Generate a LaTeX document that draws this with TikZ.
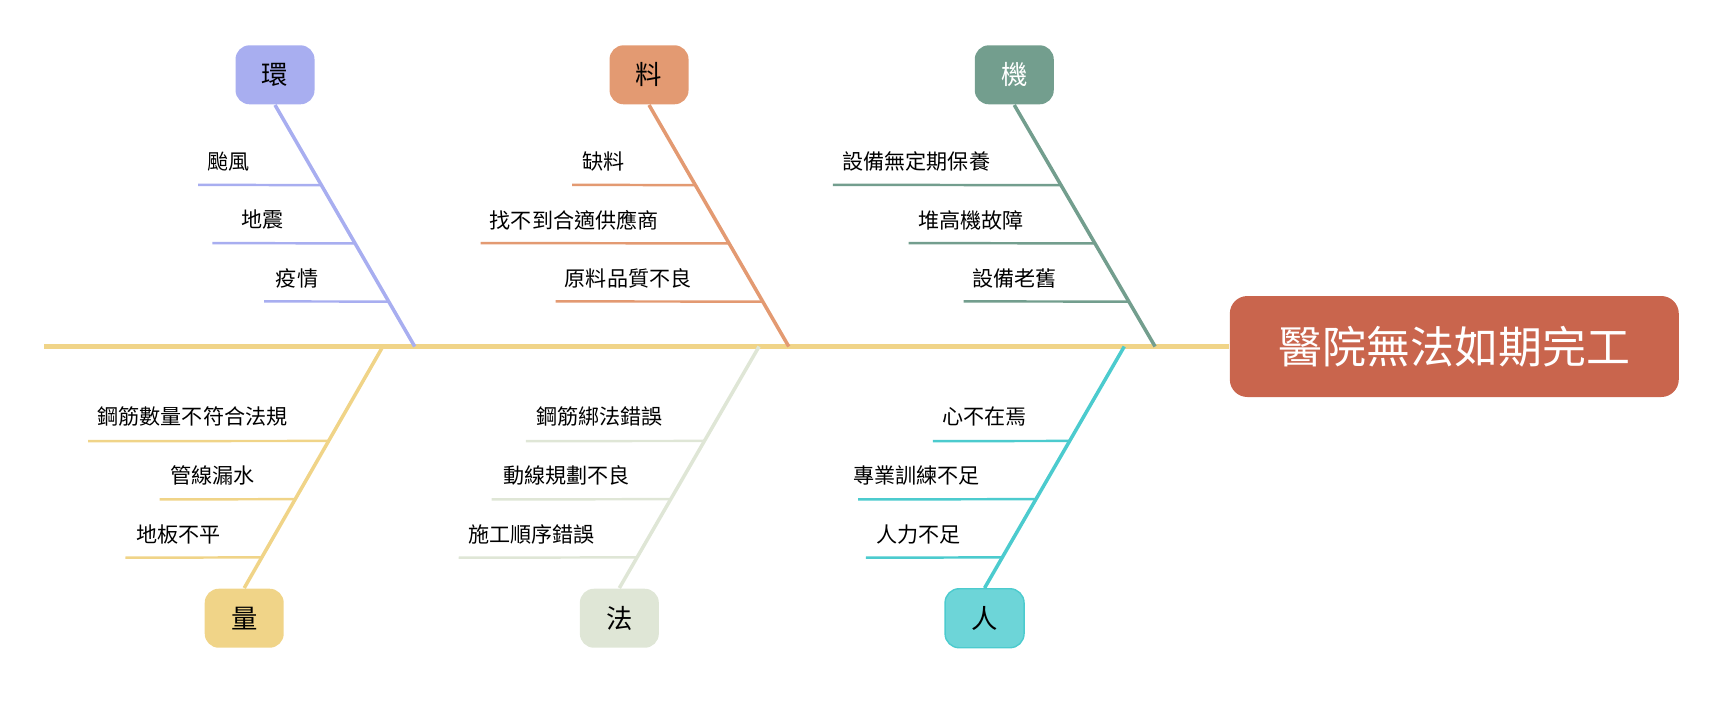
\documentclass[tikz,border=0pt]{standalone}
\usepackage{fontspec}
\setmainfont{Noto Sans CJK TC}
\usetikzlibrary{positioning,calc}

\definecolor{huan}{HTML}{A8AEF0}
\definecolor{liao}{HTML}{E39A72}
\definecolor{ji}{HTML}{739E8E}
\definecolor{liang}{HTML}{F0D488}
\definecolor{fa}{HTML}{DFE6D6}
\definecolor{ren}{HTML}{6DD5D8}
\definecolor{renline}{HTML}{4CCBCE}
\definecolor{head}{HTML}{C9654D}

\tikzset{
  catbox/.style={rounded corners=4pt,minimum width=0.79cm,minimum height=0.59cm,font=\fontsize{7.5}{9}\selectfont,inner sep=0pt},
  cause/.style={font=\fontsize{6}{7}\selectfont,inner sep=1pt},
  bone/.style={line width=1pt},
  twig/.style={line width=0.7pt}
}

\begin{document}
\begin{tikzpicture}[x=0.011cm,y=-0.011cm]
  \useasboundingbox (0,0) rectangle (1569,645);

  % spine and head
  \node[fill=head,text=white,rounded corners=5pt,minimum width=4.49cm,minimum height=1.01cm,
        font=\fontsize{12.5}{14}\selectfont] (head) at (1322,315) {醫院無法如期完工};
  \coordinate (tail) at (40,315);
  \draw[liang,line width=1.3pt] (tail) -- (head.west);

  % top: 環
  \node[catbox,fill=huan] (huan) at (250,68) {環};
  \coordinate (huanend) at (377,315);
  \draw[bone,huan] (huan.south) -- (huanend);
  \coordinate (h1) at (180,168); \coordinate (h2) at (193,221); \coordinate (h3) at (240,274);
  \draw[twig,huan] (h1) -- ($(huan.south)!0.332!(huanend)$);
  \draw[twig,huan] (h2) -- ($(huan.south)!0.573!(huanend)$);
  \draw[twig,huan] (h3) -- ($(huan.south)!0.814!(huanend)$);
  \node[cause] (h1t) at (208,147) {颱風};
  \node[cause] (h2t) at (239,200) {地震};
  \node[cause] (h3t) at (270,253) {疫情};

  % top: 料
  \node[catbox,fill=liao] (liao) at (590,68) {料};
  \coordinate (liaoend) at (717,315);
  \draw[bone,liao] (liao.south) -- (liaoend);
  \coordinate (l1) at (520,168); \coordinate (l2) at (437,221); \coordinate (l3) at (505,274);
  \draw[twig,liao] (l1) -- ($(liao.south)!0.332!(liaoend)$);
  \draw[twig,liao] (l2) -- ($(liao.south)!0.573!(liaoend)$);
  \draw[twig,liao] (l3) -- ($(liao.south)!0.814!(liaoend)$);
  \node[cause] (l1t) at (549,147) {缺料};
  \node[cause] (l2t) at (522,200) {找不到合適供應商};
  \node[cause] (l3t) at (571,253) {原料品質不良};

  % top: 機
  \node[catbox,fill=ji,text=white] (ji) at (922,68) {機};
  \coordinate (jiend) at (1050,315);
  \draw[bone,ji] (ji.south) -- (jiend);
  \coordinate (j1) at (757,168); \coordinate (j2) at (826,221); \coordinate (j3) at (876,274);
  \draw[twig,ji] (j1) -- ($(ji.south)!0.332!(jiend)$);
  \draw[twig,ji] (j2) -- ($(ji.south)!0.573!(jiend)$);
  \draw[twig,ji] (j3) -- ($(ji.south)!0.814!(jiend)$);
  \node[cause] (j1t) at (833,147) {設備無定期保養};
  \node[cause] (j2t) at (883,200) {堆高機故障};
  \node[cause] (j3t) at (922,253) {設備老舊};

  % bottom: 量
  \node[catbox,fill=liang] (liang) at (222,562) {量};
  \coordinate (liangend) at (348,315);
  \draw[bone,liang] (liang.north) -- (liangend);
  \coordinate (q1) at (80,401); \coordinate (q2) at (145,454); \coordinate (q3) at (114,507);
  \draw[twig,liang] (q1) -- ($(liang.north)!0.609!(liangend)$);
  \draw[twig,liang] (q2) -- ($(liang.north)!0.368!(liangend)$);
  \draw[twig,liang] (q3) -- ($(liang.north)!0.127!(liangend)$);
  \node[cause] (q1t) at (175,379) {鋼筋數量不符合法規};
  \node[cause] (q2t) at (193,432) {管線漏水};
  \node[cause] (q3t) at (162,486) {地板不平};

  % bottom: 法
  \node[catbox,fill=fa] (fa) at (563,562) {法};
  \coordinate (faend) at (690,315);
  \draw[bone,fa] (fa.north) -- (faend);
  \coordinate (f1) at (478,401); \coordinate (f2) at (447,454); \coordinate (f3) at (417,507);
  \draw[twig,fa] (f1) -- ($(fa.north)!0.609!(faend)$);
  \draw[twig,fa] (f2) -- ($(fa.north)!0.368!(faend)$);
  \draw[twig,fa] (f3) -- ($(fa.north)!0.127!(faend)$);
  \node[cause] (f1t) at (545,379) {鋼筋綁法錯誤};
  \node[cause] (f2t) at (515,432) {動線規劃不良};
  \node[cause] (f3t) at (483,486) {施工順序錯誤};

  % bottom: 人
  \node[catbox,fill=ren,draw=renline,line width=0.4pt] (ren) at (895,562) {人};
  \coordinate (renend) at (1022,315);
  \draw[bone,renline] (ren.north) -- (renend);
  \coordinate (r1) at (848,401); \coordinate (r2) at (780,454); \coordinate (r3) at (787,507);
  \draw[twig,renline] (r1) -- ($(ren.north)!0.609!(renend)$);
  \draw[twig,renline] (r2) -- ($(ren.north)!0.368!(renend)$);
  \draw[twig,renline] (r3) -- ($(ren.north)!0.127!(renend)$);
  \node[cause] (r1t) at (895,379) {心不在焉};
  \node[cause] (r2t) at (833,432) {專業訓練不足};
  \node[cause] (r3t) at (835,486) {人力不足};
\end{tikzpicture}
\end{document}
